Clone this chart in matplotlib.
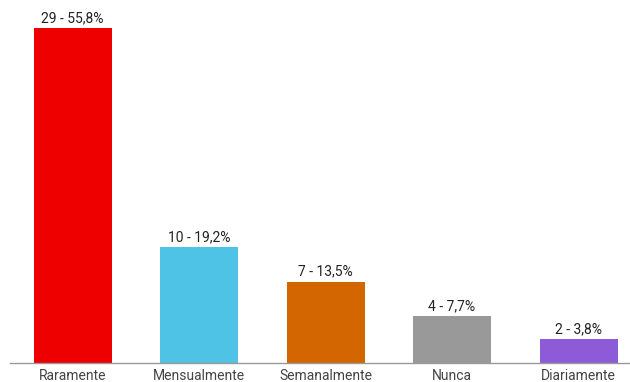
import matplotlib
matplotlib.use("Agg")
import matplotlib.pyplot as plt

categories = ["Raramente", "Mensualmente", "Semanalmente", "Nunca", "Diariamente"]
counts = [29, 10, 7, 4, 2]
percent_labels = ["55,8%", "19,2%", "13,5%", "7,7%", "3,8%"]
colors = ["#EE0000", "#4FC3E6", "#D46600", "#999999", "#8E5BD8"]

plt.rcParams["font.family"] = ["Roboto", "DejaVu Sans"]

W, H = 630, 382
fig = plt.figure(figsize=(W / 100, H / 100), dpi=100)
# axes placed in pixel terms: baseline near y=362.5, spanning x 10..630
left_px, right_px = 10, 630
bottom_px, top_px = 382 - 362.5, 382 - 5
ax = fig.add_axes([left_px / W, bottom_px / H, (right_px - left_px) / W, (top_px - bottom_px) / H])

step = 126.5
c0 = 72.5
ax.set_xlim((left_px - c0) / step, (right_px - c0) / step)
unit_px = 334 / 29
ax.set_ylim(0, (top_px - bottom_px) / unit_px)

x = range(len(categories))
bars = ax.bar(x, counts, width=78 / step, color=colors, zorder=2)

for xi, c, p in zip(x, counts, percent_labels):
    ax.annotate(f"{c} - {p}", (xi, c), xytext=(0, 2.5), textcoords="offset points",
                ha="center", va="bottom", fontsize=10, color="#222222")

for s in ["top", "right", "left"]:
    ax.spines[s].set_visible(False)
ax.spines["bottom"].set_color("#999999")
ax.spines["bottom"].set_linewidth(1)
ax.set_yticks([])
ax.set_xticks(list(x))
ax.set_xticklabels(categories, fontsize=10, color="#444444")
ax.tick_params(axis="x", length=0, pad=5)

fig.savefig("out.png", dpi=100)
